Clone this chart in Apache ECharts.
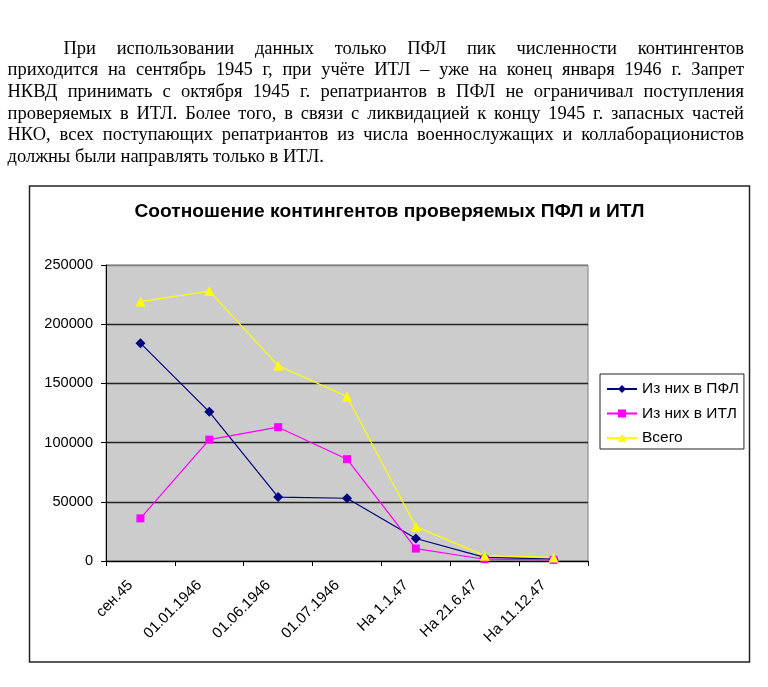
<!DOCTYPE html>
<html>
<head>
<meta charset="utf-8">
<script src="https://cdn.jsdelivr.net/npm/echarts@6/dist/echarts.min.js"></script>
<style>
  html, body { margin: 0; padding: 0; background: #fff; }
  #main { position: absolute; left: 0; top: 0; width: 768px; height: 687px; }
  #text {
    position: absolute; left: 7.5px; top: 37.5px; width: 736.5px;
    font-family: "Liberation Serif", "Times New Roman", serif;
    font-size: 18.5px; line-height: 21.7px; color: #000; z-index: 2;
  }
  #text div { text-align: justify; text-align-last: justify; white-space: nowrap; }
  #text div.first { text-indent: 56px; }
  #text div.last { text-align-last: left; }
</style>
</head>
<body>
<div id="main"></div>
<div id="text">
  <div class="first">При использовании данных только ПФЛ пик численности контингентов</div>
  <div>приходится на сентябрь 1945 г, при учёте ИТЛ – уже на конец января 1946 г. Запрет</div>
  <div>НКВД принимать с октября 1945 г. репатриантов в ПФЛ не ограничивал поступления</div>
  <div>проверяемых в ИТЛ. Более того, в связи с ликвидацией к концу 1945 г. запасных частей</div>
  <div>НКО, всех поступающих репатриантов из числа военнослужащих и коллаборационистов</div>
  <div class="last">должны были направлять только в ИТЛ.</div>
</div>
<script>
// --- data ---
var categories = ['сен.45', '01.01.1946', '01.06.1946', '01.07.1946', 'На 1.1.47', 'На 21.6.47', 'На 11.12.47'];
var pflValues = [184000, 126000, 54000, 53000, 19000, 3000, 1500];   // Из них в ПФЛ
var itlValues = [36000, 102500, 113000, 86000, 10500, 1500, 1000];   // Из них в ИТЛ
var totalValues = [219000, 228000, 165000, 139000, 29000, 4500, 3000]; // Всего
var yTicks = { min: 0, max: 250000, step: 50000 };

var chart = echarts.init(document.getElementById('main'));

var font = '"Liberation Sans", Arial, sans-serif';

chart.setOption({
  animation: false,
  title: {
    text: 'Соотношение контингентов проверяемых ПФЛ и ИТЛ',
    left: 389.5,
    top: 202,
    textAlign: 'center',
    padding: 0,
    textStyle: { fontFamily: font, fontSize: 19.2, fontWeight: 'bold', color: '#000' }
  },
  grid: {
    left: 106, right: 180, top: 265, bottom: 126,
    show: true,
    backgroundColor: '#cccccc',
    borderColor: '#808080',
    borderWidth: 1
  },
  legend: {
    orient: 'vertical',
    left: 600, top: 374,
    padding: [7, 5, 3, 6],
    itemWidth: 30, itemHeight: 10,
    itemGap: 8.5,
    borderColor: '#222', borderWidth: 1,
    backgroundColor: '#fff',
    textStyle: { fontFamily: font, fontSize: 15.5, lineHeight: 16, color: '#000' },
    data: ['Из них в ПФЛ', 'Из них в ИТЛ', 'Всего']
  },
  xAxis: {
    type: 'category',
    data: categories,
    boundaryGap: true,
    axisLine: { lineStyle: { color: '#000', width: 1 } },
    axisTick: { show: true, alignWithLabel: false, length: 5, lineStyle: { color: '#000' } },
    axisLabel: { rotate: 45, margin: 12, padding: [0, 14, 0, 0], fontFamily: font, fontSize: 15, color: '#000', interval: 0 },
    splitLine: { show: false }
  },
  yAxis: {
    type: 'value',
    min: yTicks.min, max: yTicks.max, interval: yTicks.step,
    axisLine: { show: true, lineStyle: { color: '#000', width: 1 } },
    axisTick: { show: true, length: 5, lineStyle: { color: '#000' } },
    axisLabel: { margin: 13, fontFamily: font, fontSize: 14.6, color: '#000', formatter: function (v) { return String(v); } },
    splitLine: { show: true, lineStyle: { color: ['#222', '#222', '#222', '#222', '#222', '#808080'], width: 1.3 } }
  },
  graphic: [{
    type: 'rect',
    shape: { x: 29.5, y: 186, width: 720, height: 476 },
    style: { fill: 'none', stroke: '#222', lineWidth: 1.5 },
    silent: true
  }],
  series: [{
    name: 'Из них в ПФЛ',
    type: 'line',
    data: pflValues,
    symbol: 'diamond', symbolSize: 10,
    itemStyle: { color: '#000080' },
    lineStyle: { color: '#000080', width: 1.2 }
  }, {
    name: 'Из них в ИТЛ',
    type: 'line',
    data: itlValues,
    symbol: 'rect', symbolSize: 8,
    itemStyle: { color: '#ff00ff' },
    lineStyle: { color: '#ff00ff', width: 1.2 }
  }, {
    name: 'Всего',
    type: 'line',
    data: totalValues,
    symbol: 'triangle', symbolSize: 10,
    itemStyle: { color: '#ffff00' },
    lineStyle: { color: '#ffff00', width: 1.2 }
  }]
});
</script>
</body>
</html>
